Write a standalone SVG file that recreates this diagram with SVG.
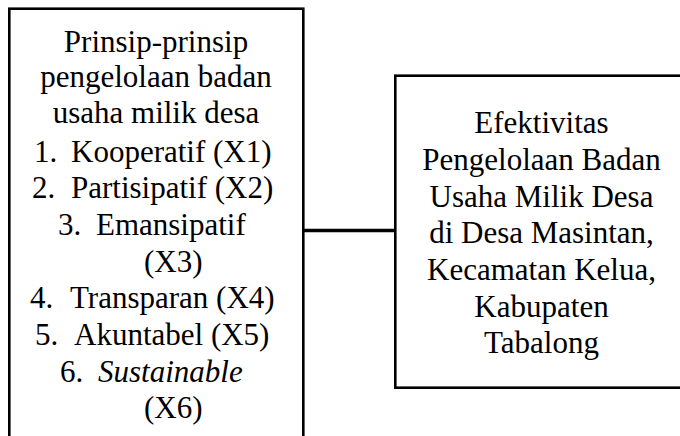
<svg xmlns="http://www.w3.org/2000/svg" width="680" height="436" viewBox="0 0 680 436">
  <style>
    .box { fill: #ffffff; stroke: #000000; stroke-width: 2.6; }
    .t { font-family: "Liberation Serif", "Times New Roman", serif; font-size: 31px; fill: #000000; }
    .c { text-anchor: middle; }
    .conn { stroke: #000000; stroke-width: 3.6; fill: none; }
  </style>
  <rect width="680" height="436" fill="#ffffff"/>
  <g id="connectors">
    <line class="conn" x1="303" y1="230.5" x2="395" y2="230.5"/>
  </g>
  <g id="node-principles">
    <rect class="box" x="9.3" y="8.7" width="294" height="450"/>
    <text class="t c" x="156" y="52">Prinsip-prinsip</text>
    <text class="t c" x="156" y="87">pengelolaan badan</text>
    <text class="t c" x="156" y="122.5">usaha milik desa</text>
    <text class="t" y="161.7"><tspan x="34">1.</tspan><tspan x="71">Kooperatif (X1)</tspan></text>
    <text class="t" y="198.3"><tspan x="32">2.</tspan><tspan x="71">Partisipatif (X2)</tspan></text>
    <text class="t" y="235"><tspan x="58">3.</tspan><tspan x="96">Emansipatif</tspan></text>
    <text class="t" x="144" y="271.7">(X3)</text>
    <text class="t" y="308.3"><tspan x="30">4.</tspan><tspan x="70">Transparan (X4)</tspan></text>
    <text class="t" y="345"><tspan x="35">5.</tspan><tspan x="74">Akuntabel (X5)</tspan></text>
    <text class="t" y="381.7"><tspan x="60">6.</tspan><tspan x="98" font-style="italic">Sustainable</tspan></text>
    <text class="t" x="144" y="418.3">(X6)</text>
  </g>
  <g id="node-effectiveness">
    <rect class="box" x="395.3" y="75.7" width="300" height="312"/>
    <text class="t c" x="541.5" y="133.3">Efektivitas</text>
    <text class="t c" x="541.5" y="170">Pengelolaan Badan</text>
    <text class="t c" x="541.5" y="206.7">Usaha Milik Desa</text>
    <text class="t c" x="541.5" y="243.3">di Desa Masintan,</text>
    <text class="t c" x="541.5" y="280">Kecamatan Kelua,</text>
    <text class="t c" x="541.5" y="316.7">Kabupaten</text>
    <text class="t c" x="541.5" y="353.3">Tabalong</text>
  </g>
</svg>
